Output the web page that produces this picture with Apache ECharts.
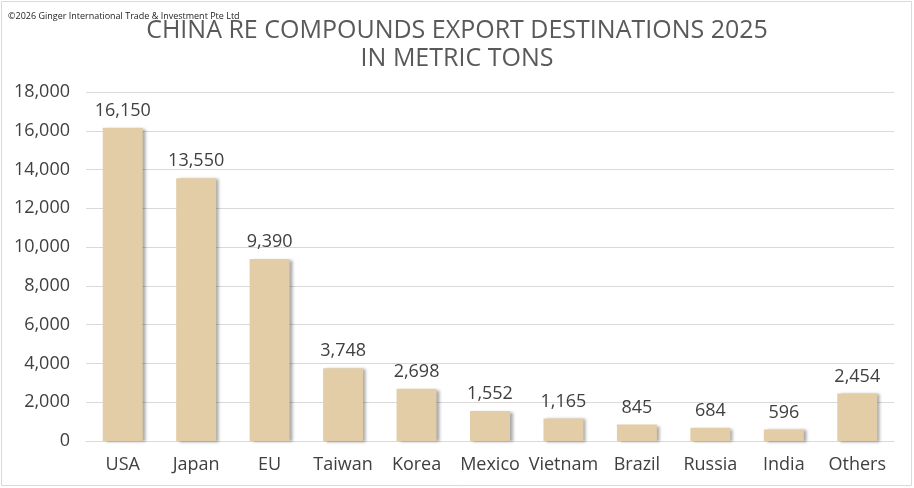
<!DOCTYPE html>
<html>
<head>
<meta charset="utf-8">
<script src="https://cdn.jsdelivr.net/npm/echarts@6/dist/echarts.min.js"></script>
<style>
    html, body {margin: 0; padding: 0; background: #fff;}
    #main {width: 914px; height: 488px;}
</style>
</head>
<body>
<div id="main"></div>
<script>
var countries = ['USA', 'Japan', 'EU', 'Taiwan', 'Korea', 'Mexico', 'Vietnam', 'Brazil', 'Russia', 'India', 'Others'];
var tons = [16150, 13550, 9390, 3748, 2698, 1552, 1165, 845, 684, 596, 2454];
var titleLines = ['CHINA RE COMPOUNDS EXPORT DESTINATIONS 2025', 'IN METRIC TONS'];
var copyright = '©2026 Ginger International Trade & Investment Pte Ltd';

function draw_bar() {
    var myChart = echarts.init(document.getElementById('main'));
    var font = '"Open Sans", "Noto Sans", sans-serif';

    option = {
        textStyle: {fontFamily: font},
        title: {
            text: titleLines.join('\n'),
            left: 'center',
            top: 12,
            textStyle: {
                fontFamily: font,
                fontSize: 25,
                fontWeight: 'normal',
                color: '#595959',
                lineHeight: 28
            }
        },
        graphic: [
            {
                type: 'rect',
                shape: {x: 1.5, y: 1.5, width: 910, height: 484},
                style: {fill: 'none', stroke: '#d9d9d9', lineWidth: 1}
            },
            {
                type: 'text',
                left: 8,
                top: 12,
                style: {text: copyright, font: '9px ' + font, fill: '#222'}
            }
        ],
        grid: {left: 86, right: 20, top: 92, bottom: 47},
        xAxis: {
            type: 'category',
            data: countries,
            axisLine: {lineStyle: {color: '#d9d9d9'}},
            axisTick: {show: false},
            axisLabel: {color: '#404040', fontSize: 18, margin: 15, interval: 0}
        },
        yAxis: {
            type: 'value',
            min: 0,
            max: 18000,
            interval: 2000,
            axisLabel: {
                color: '#404040',
                fontSize: 18,
                margin: 16,
                formatter: function (v) {
                    return v.toLocaleString('en-US');
                }
            },
            splitLine: {lineStyle: {color: '#d9d9d9'}}
        },
        series: [
            {
                type: 'bar',
                data: tons,
                barWidth: 40,
                itemStyle: {
                    color: '#e2cda6',
                    shadowColor: 'rgba(0,0,0,0.35)',
                    shadowBlur: 3,
                    shadowOffsetX: 3,
                    shadowOffsetY: 1
                },
                label: {
                    show: true,
                    position: 'top',
                    distance: 8,
                    color: '#404040',
                    fontSize: 18,
                    formatter: function (p) {
                        return p.value.toLocaleString('en-US');
                    }
                }
            }
        ]
    };

    myChart.setOption(option);
}

draw_bar();
</script>
</body>
</html>
